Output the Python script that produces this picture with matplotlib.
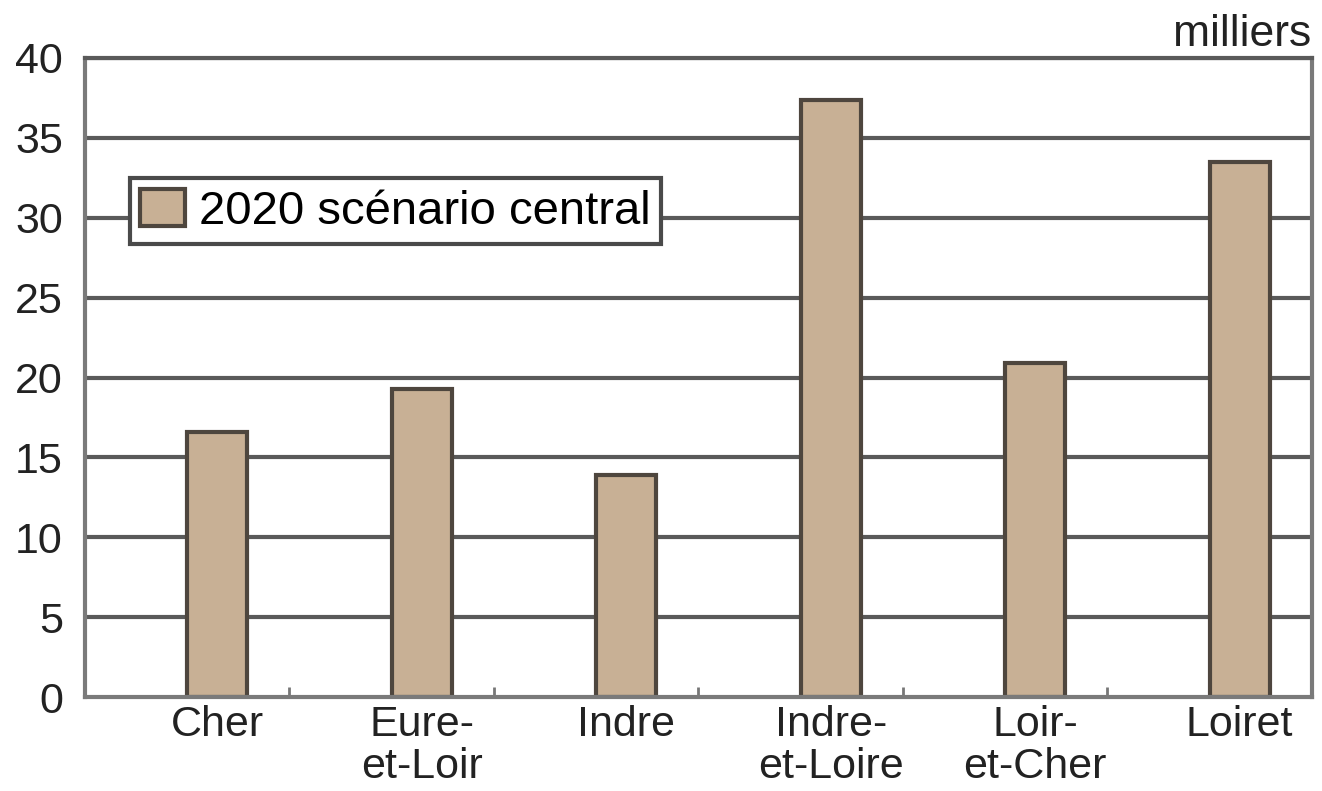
import matplotlib.pyplot as plt
import numpy as np

departements = ["Cher", "Eure-\net-Loir", "Indre", "Indre-\net-Loire", "Loir-\net-Cher", "Loiret"]
valeurs = [16.6, 19.3, 13.9, 37.4, 20.9, 33.5]
serie = "2020 scénario central"
yticks = [0, 5, 10, 15, 20, 25, 30, 35, 40]

plt.rcParams['font.family'] = ['Liberation Sans', 'DejaVu Sans']

fig = plt.figure(figsize=(13.22, 7.91), dpi=100)
ax = fig.add_axes([0.0643, 0.1188, 0.9281, 0.8079])

n = len(departements)
largeur = 0.293
x = np.arange(n) + 0.5 + largeur / 2

# grille derriere les barres
for y in yticks[1:]:
    ax.axhline(y, color="#5a5a5a", lw=3, zorder=1)

ax.bar(x, valeurs, width=largeur, color="#c8b095", edgecolor="#4e463e",
       linewidth=3, zorder=2, label=serie)

ax.set_xlim(0, n)
ax.set_ylim(0, 40)
ax.set_yticks(yticks)
ax.set_yticklabels([str(v) for v in yticks], fontsize=31, color="#222222")
ax.tick_params(axis="y", length=0, pad=16)

ax.set_xticks(x)
ax.set_xticklabels(departements, fontsize=31, color="#222222", linespacing=1.05)
ax.tick_params(axis="x", length=0, pad=6)
ax.set_xticks(np.arange(1, n), minor=True)
ax.tick_params(axis="x", which="minor", direction="in", length=7, width=2, color="#777777")

for s in ax.spines.values():
    s.set_color("#7a7a7a")
    s.set_linewidth(3)
ax.spines["top"].set_color("#5a5a5a")

fig.text(0.992, 0.957, "milliers", fontsize=32, ha="right", va="center", color="#222222")

leg = ax.legend(loc="upper left", bbox_to_anchor=(0.0367, 0.812), fontsize=34,
                frameon=True, fancybox=False, handlelength=0.95, handleheight=0.85,
                handletextpad=0.3, borderpad=0.22, borderaxespad=0)
leg.get_frame().set_edgecolor("#4a4a4a")
leg.get_frame().set_linewidth(3)
leg.get_frame().set_alpha(1)

fig.savefig("out.png", dpi=100)
